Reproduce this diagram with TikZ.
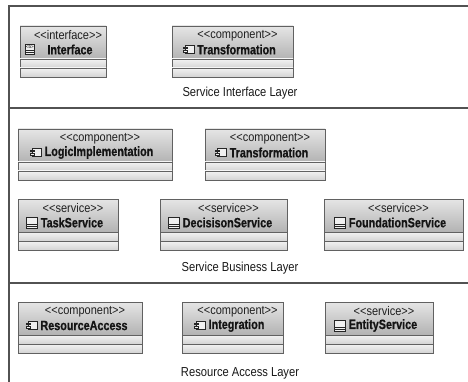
\documentclass[tikz,border=0pt]{standalone}
\usepackage{fontspec}
\setmainfont{Liberation Sans}
\newfontfamily\nfont{Liberation Sans}[FakeStretch=0.86]
\newfontfamily\bnfont{Liberation Sans Bold}[FakeStretch=0.8, FakeBold=0.6]
\newfontfamily\snfont{Liberation Sans}[FakeStretch=0.88]
\tikzset{
  frameline/.style={draw=black!68, line width=1.1pt},
  hdr/.style={draw=black!62, line width=0.7pt, top color=black!10, bottom color=black!30},
  cmp/.style={draw=black!62, line width=0.7pt, top color=black!5, bottom color=black!17},
  stereo/.style={font=\snfont\fontsize{12.5}{12.5}\selectfont, inner sep=0pt, text=black!88},
  cname/.style={font=\bnfont\fontsize{13.5}{13.5}\selectfont, inner sep=0pt, text=black!92},
  layer/.style={font=\nfont\fontsize{13}{13}\selectfont, inner sep=0pt, text=black!90},
  icon/.style={draw=black!85, line width=0.75pt, fill=black!6}
}
% #1 id, #2 x1, #3 y1, #4 x2, #5 stereotype, #6 name, #7 icon macro, #8 name offset
\newcommand\umlcls[8]{%
  \path[hdr] (#2,#3) rectangle (#4,#3+33);
  \path[cmp] (#2,#3+33) rectangle (#4,#3+42);
  \path[cmp] (#2,#3+42) rectangle (#4,#3+51);
  \node[stereo] (#1s) at ({(#2+#4)/2+5},#3+9.5) {<<#5>>};
  \node[cname, anchor=center] (#1n) at ({(#2+#4)/2+#8},#3+23.5) {#6};
  #7{#1n}%
}
\newcommand\compicon[1]{%
  \draw[icon] ([xshift=-12pt,yshift=4pt]#1.west) rectangle ([xshift=-3pt,yshift=-4pt]#1.west);
  \draw[icon] ([xshift=-14pt,yshift=2.5pt]#1.west) rectangle ([xshift=-10pt,yshift=0.8pt]#1.west);
  \draw[icon] ([xshift=-14pt,yshift=-0.8pt]#1.west) rectangle ([xshift=-10pt,yshift=-2.5pt]#1.west);
}
\newcommand\servicon[1]{%
  \draw[icon] ([xshift=-14pt,yshift=5.5pt]#1.west) rectangle ([xshift=-3pt,yshift=-5.5pt]#1.west);
  \draw[icon] ([xshift=-14pt,yshift=-1.5pt]#1.west) -- ([xshift=-3pt,yshift=-1.5pt]#1.west);
  \draw[icon] ([xshift=-14pt,yshift=-3.5pt]#1.west) -- ([xshift=-3pt,yshift=-3.5pt]#1.west);
}
\newcommand\intficon[1]{%
  \draw[icon] ([xshift=-22pt,yshift=5pt]#1.west) rectangle ([xshift=-13pt,yshift=-5pt]#1.west);
  \draw[icon] ([xshift=-22pt,yshift=-0.5pt]#1.west) -- ([xshift=-13pt,yshift=-0.5pt]#1.west);
  \draw[icon] ([xshift=-22pt,yshift=-3pt]#1.west) -- ([xshift=-13pt,yshift=-3pt]#1.west);
  \node[inner sep=0pt, font=\fontsize{4.5}{4.5}\selectfont] at ([xshift=-17.5pt,yshift=2.3pt]#1.west) {<b>};
}
\begin{document}
\begin{tikzpicture}[x=1pt,y=-1pt]
\useasboundingbox[fill=white] (0,0) rectangle (468,382);
% frame
\coordinate (tl) at (9,6);
\coordinate (tr) at (468,6);
\coordinate (bl) at (9,382);
\coordinate (l1) at (9,108);
\coordinate (r1) at (468,108);
\coordinate (l2) at (9,283);
\coordinate (r2) at (468,283);
\draw[frameline] (tr) -- (tl) -- (bl);
\draw[frameline] (l1) -- (r1);
\draw[frameline] (l2) -- (r2);
% Service Interface Layer
\umlcls{intf}{20}{26}{106}{interface}{Interface}{\intficon}{7}
\umlcls{trA}{172}{26}{293}{component}{Transformation}{\compicon}{4}
\node[layer] (lay1) at (240,93) {Service Interface Layer};
% Service Business Layer
\umlcls{logic}{18}{129}{172}{component}{LogicImplementation}{\compicon}{4}
\umlcls{trB}{205}{129}{325}{component}{Transformation}{\compicon}{4}
\umlcls{task}{18}{199}{118}{service}{TaskService}{\servicon}{4}
\umlcls{dec}{160}{199}{287}{service}{DecisisonService}{\servicon}{4}
\umlcls{found}{324}{199}{463}{service}{FoundationService}{\servicon}{4}
\node[layer] (lay2) at (240,268) {Service Business Layer};
% Resource Access Layer
\umlcls{res}{18}{302}{142}{component}{ResourceAccess}{\compicon}{4}
\umlcls{integ}{182}{302}{283}{component}{Integration}{\compicon}{4}
\umlcls{ent}{325}{302}{433}{service}{EntityService}{\servicon}{4}
\node[layer] (lay3) at (240,373) {Resource Access Layer};
\end{tikzpicture}
\end{document}
